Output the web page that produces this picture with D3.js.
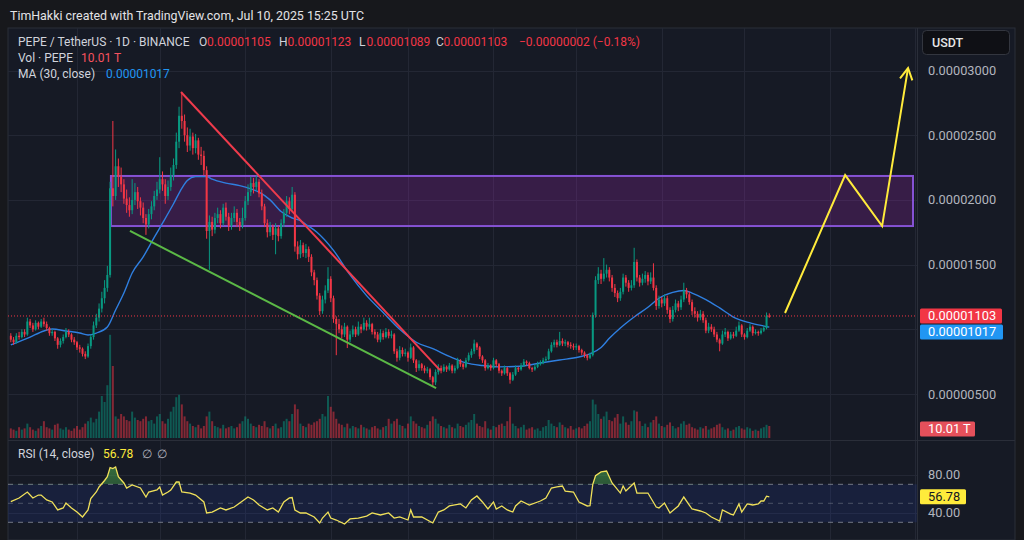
<!DOCTYPE html>
<html>
<head>
<meta charset="utf-8">
<script src="https://cdn.jsdelivr.net/npm/d3@7"></script>
<style>
  body { margin: 0; background: #17181c; }
  svg { display: block; font-family: Roboto, "Noto Sans", sans-serif; }
</style>
</head>
<body>
<svg id="chart" width="1024" height="540"></svg>
<script>
// PEPE / USDT daily candles, prices in millionths of a USDT (1 = 0.000001)
const startDay = Date.UTC(2024, 9, 8);   // first candle: Oct 8 2024
const firstOpen = 9.5;

const closes = [
  9.2, 9.0, 9.5, 9.4, 9.8, 9.6, 10.6, 10.3, 10.0, 10.5,
  10.2, 10.6, 10.4, 10.1, 9.7, 9.8, 9.3, 8.8, 9.1, 9.4,
  9.8, 9.6, 9.2, 9.0, 8.6, 8.5, 8.1, 7.9, 8.7, 9.4,
  10.3, 10.9, 11.6, 12.4, 13.2, 14.2, 20.9, 20.3, 22.6, 21.8,
  21.2, 20.1, 19.6, 19.2, 20.0, 20.6, 19.9, 19.4, 18.6, 18.1,
  18.9, 19.5, 20.3, 20.8, 21.6, 21.2, 20.3, 21.0, 21.9, 22.7,
  24.5, 26.5, 26.1, 25.0, 24.2, 24.9, 24.0, 24.6, 23.5, 23.4,
  22.3, 17.6, 18.3, 17.7, 18.6, 18.9, 18.2, 19.4, 18.7, 18.0,
  18.6, 19.0, 18.3, 18.0, 18.6, 19.9, 20.6, 21.3, 21.0, 21.4,
  20.5, 19.5, 18.2, 17.5, 17.9, 17.3, 17.8, 17.2, 18.2, 19.0,
  19.9, 19.3, 20.4, 16.4, 15.8, 16.5, 15.9, 16.2, 15.6, 14.4,
  13.8, 12.6, 11.4, 12.3, 13.0, 13.9, 12.4, 10.8, 10.4, 10.0,
  9.6, 10.2, 9.2, 9.6, 10.0, 9.6, 10.2, 10.0, 10.5, 10.2,
  10.4, 9.8, 9.6, 9.2, 9.7, 9.4, 9.8, 9.5, 9.6, 8.3,
  7.8, 8.4, 8.1, 8.2, 7.8, 8.6, 7.6, 7.0, 7.3, 7.0,
  6.8, 6.9, 6.3, 5.9, 6.7, 7.0, 6.8, 7.1, 6.9, 7.2,
  6.8, 7.0, 7.6, 7.3, 7.1, 7.6, 8.0, 8.3, 8.9, 8.6,
  7.9, 7.6, 7.0, 7.2, 7.0, 7.6, 7.3, 6.8, 6.6, 7.0,
  6.6, 6.1, 6.5, 7.0, 6.9, 7.2, 7.5, 7.4, 7.0, 6.9,
  7.1, 7.3, 7.4, 7.6, 7.7, 8.3, 8.8, 9.0, 8.8, 9.1,
  8.9, 9.0, 8.8, 8.7, 8.6, 8.7, 8.4, 8.2, 8.0, 7.8,
  8.0, 11.1, 13.8, 14.3, 13.9, 14.3, 14.6, 14.0, 13.2, 12.8,
  12.4, 12.9, 14.0, 13.6, 13.2, 13.4, 15.2, 14.0, 13.6, 13.9,
  14.2, 13.7, 14.0, 13.2, 11.8, 12.3, 12.0, 12.4, 11.5, 10.8,
  11.5, 12.0, 11.7, 12.3, 13.0, 12.7, 12.1, 11.4, 11.2, 10.9,
  11.2, 10.7, 9.9, 10.2, 10.0, 9.6, 9.2, 8.9, 9.6, 9.8,
  9.3, 9.6, 9.5, 9.9, 10.3, 9.6, 9.4, 9.9, 10.2, 9.7,
  9.8, 9.7, 9.9, 10.1, 11.05, 11.03
];

const highs = [
  9.7, 9.4, 9.7, 9.8, 10.0, 10.0, 10.9, 10.8, 10.5, 10.7,
  10.6, 10.8, 10.9, 10.6, 10.2, 10.0, 9.9, 9.4, 9.3, 9.6,
  10.1, 10.0, 9.7, 9.4, 9.1, 8.8, 8.6, 8.3, 8.9, 9.6,
  10.6, 11.2, 12.0, 12.9, 13.8, 14.9, 21.4, 26.1, 23.9, 23.2,
  22.5, 21.6, 20.8, 20.2, 21.6, 21.3, 21.0, 20.2, 19.8, 18.9,
  19.3, 19.9, 20.7, 21.4, 23.3, 22.2, 21.6, 21.5, 22.5, 23.2,
  25.2, 27.2, 28.3, 26.6, 25.6, 25.5, 25.2, 25.1, 24.8, 24.1,
  23.8, 22.6, 18.8, 18.7, 19.0, 19.4, 19.2, 19.7, 19.8, 19.0,
  19.0, 19.5, 19.3, 18.6, 19.4, 20.3, 21.2, 21.8, 21.7, 21.9,
  21.6, 20.8, 19.7, 18.5, 18.3, 18.1, 18.2, 18.0, 18.5, 19.3,
  20.3, 20.2, 21.0, 20.6, 16.8, 16.9, 16.7, 16.6, 16.4, 15.8,
  14.6, 14.0, 12.8, 12.6, 13.4, 14.8, 14.1, 12.6, 11.0, 10.8,
  10.3, 10.5, 10.3, 9.9, 10.3, 10.2, 10.6, 10.4, 10.9, 10.7,
  10.9, 10.5, 10.0, 9.8, 10.0, 9.9, 10.1, 10.0, 9.9, 9.7,
  8.5, 8.7, 8.6, 8.5, 8.3, 8.9, 8.7, 7.7, 7.6, 7.4,
  7.2, 7.1, 7.0, 6.4, 6.9, 7.3, 7.2, 7.3, 7.2, 7.4,
  7.3, 7.2, 7.8, 7.7, 7.4, 7.8, 8.2, 8.5, 9.2, 9.0,
  8.7, 8.0, 7.7, 7.4, 7.3, 7.8, 7.7, 7.4, 6.9, 7.2,
  7.1, 6.7, 6.7, 7.2, 7.1, 7.4, 7.7, 7.6, 7.5, 7.1,
  7.3, 7.5, 7.6, 7.8, 7.9, 8.5, 9.0, 9.2, 9.2, 9.8,
  9.3, 9.2, 9.1, 9.0, 8.9, 8.9, 8.8, 8.5, 8.3, 8.1,
  8.2, 11.3, 14.1, 14.8, 14.6, 15.5, 15.0, 14.8, 14.2, 13.5,
  13.0, 13.2, 14.3, 14.2, 13.8, 13.8, 16.3, 15.4, 14.2, 14.3,
  14.5, 14.4, 14.4, 15.1, 13.4, 12.6, 12.5, 12.7, 12.6, 11.7,
  11.8, 12.3, 12.2, 12.6, 13.6, 13.2, 12.9, 12.3, 11.7, 11.4,
  11.5, 11.4, 10.9, 10.5, 10.4, 10.2, 9.8, 9.3, 9.9, 10.1,
  9.9, 9.8, 9.8, 10.2, 10.6, 10.4, 9.7, 10.1, 10.4, 10.3,
  10.0, 9.9, 10.1, 10.3, 11.3, 11.23
];

const lows = [
  9.0, 8.8, 8.9, 9.2, 9.3, 9.4, 9.5, 10.1, 9.8, 9.9,
  10.0, 10.1, 10.2, 9.9, 9.5, 9.5, 9.1, 8.5, 8.6, 8.9,
  9.3, 9.4, 9.0, 8.8, 8.4, 8.2, 7.9, 7.7, 7.8, 8.5,
  9.2, 10.1, 10.6, 11.3, 12.0, 12.9, 14.0, 19.5, 20.0, 21.0,
  20.6, 19.7, 19.0, 18.7, 18.9, 19.6, 19.3, 18.8, 18.2, 17.3,
  17.8, 18.5, 19.2, 20.0, 20.5, 20.7, 19.7, 20.0, 20.7, 21.5,
  22.4, 24.0, 25.5, 24.5, 23.7, 23.8, 23.5, 23.6, 23.1, 22.7,
  21.9, 17.0, 14.6, 17.2, 17.4, 18.2, 17.8, 18.0, 18.4, 17.6,
  17.7, 18.3, 17.9, 17.6, 17.8, 18.4, 19.6, 20.3, 20.5, 20.7,
  20.2, 19.2, 17.9, 17.1, 17.2, 16.9, 15.8, 16.8, 17.0, 17.9,
  18.7, 18.9, 19.1, 16.0, 15.4, 15.5, 15.6, 15.5, 15.2, 14.1,
  13.4, 12.3, 11.1, 11.2, 12.0, 12.8, 12.1, 10.5, 8.0, 9.7,
  9.3, 9.4, 8.55, 9.0, 9.4, 9.4, 9.5, 9.7, 9.9, 9.9,
  10.0, 9.6, 9.3, 9.0, 9.0, 9.2, 9.3, 9.3, 9.3, 8.1,
  7.5, 7.6, 7.9, 7.9, 7.5, 7.7, 7.4, 6.7, 6.8, 6.8,
  6.6, 6.6, 6.1, 5.55, 5.7, 6.5, 6.6, 6.7, 6.7, 6.8,
  6.6, 6.6, 6.9, 7.1, 6.9, 7.0, 7.5, 7.8, 8.1, 8.4,
  7.7, 7.4, 6.8, 6.9, 6.8, 6.9, 7.1, 6.6, 6.4, 6.5,
  6.4, 5.8, 6.0, 6.4, 6.7, 6.8, 7.1, 7.2, 6.9, 6.7,
  6.8, 7.0, 7.2, 7.3, 7.5, 7.6, 8.2, 8.6, 8.6, 8.7,
  8.7, 8.7, 8.6, 8.5, 8.4, 8.4, 8.2, 8.0, 7.8, 7.6,
  7.7, 7.9, 10.9, 13.5, 13.5, 13.7, 14.0, 13.7, 12.9, 12.5,
  12.1, 12.2, 12.7, 13.3, 12.9, 13.0, 13.2, 13.7, 13.3, 13.4,
  13.6, 13.4, 13.5, 13.0, 11.5, 11.6, 11.7, 11.8, 11.2, 10.5,
  10.6, 11.3, 11.4, 11.5, 12.1, 12.4, 11.9, 11.1, 10.9, 10.6,
  10.7, 10.5, 9.7, 9.7, 9.8, 9.4, 9.0, 8.3, 8.8, 9.4,
  9.1, 9.2, 9.3, 9.4, 9.8, 9.4, 9.2, 9.3, 9.8, 9.5,
  9.6, 9.5, 9.6, 9.8, 10.0, 10.89
];

// volume in trillions of PEPE
const volumes = [
  8, 7, 6, 9, 7, 8, 12, 9, 7, 6,
  8, 10, 14, 9, 8, 7, 11, 12, 8, 7,
  9, 7, 6, 8, 10, 7, 9, 12, 14, 17,
  13, 16, 22, 35, 30, 44, 86, 60, 18, 16,
  20, 18, 15, 14, 22, 17, 15, 14, 16, 18,
  14, 15, 12, 18, 20, 14, 12, 16, 22, 26,
  34, 36, 28, 18, 14, 12, 10, 9, 11, 8,
  10, 18, 22, 14, 10, 9, 8, 11, 8, 9,
  10, 8, 9, 12, 14, 18, 16, 12, 10, 9,
  11, 10, 14, 9, 8, 10, 12, 8, 9, 14,
  16, 14, 20, 28, 24, 12, 10, 9, 12, 11,
  13, 14, 16, 20, 18, 35, 26, 22, 16, 12,
  11, 9, 12, 8, 10, 9, 8, 11, 9, 8,
  7, 9, 10, 8, 7, 9, 10, 16, 12, 14,
  16, 11, 10, 8, 12, 18, 14, 12, 10, 9,
  8, 11, 14, 18, 16, 12, 10, 9, 8, 11,
  9, 8, 12, 10, 9, 11, 13, 15, 20, 12,
  10, 9, 14, 8, 7, 10, 9, 11, 12, 10,
  14, 26, 12, 10, 8, 9, 11, 7, 8, 9,
  7, 8, 6, 9, 10, 15, 12, 10, 9, 13,
  11, 9, 8, 10, 7, 8, 9, 8, 10, 12,
  14, 32, 28, 20, 16, 18, 22, 15, 14, 17,
  20, 12, 18, 13, 11, 14, 23, 22, 14, 10,
  12, 9, 13, 15, 18, 12, 10, 9, 11, 13,
  10, 8, 9, 12, 14, 11, 12, 9, 8, 7,
  9, 8, 10, 7, 8, 9, 11, 12, 9, 7,
  8, 6, 7, 9, 10, 8, 7, 9, 8, 6,
  7, 6, 8, 9, 11, 10.01
];

// MA (30, close) at these candle indices
const maIndex = [0, 7, 12, 15, 20, 25, 28, 31, 35, 38, 41, 44, 48, 52, 55, 59, 62, 64, 67, 71,
  73, 78, 83, 87, 90, 94, 98, 102, 105, 107, 111, 117, 123, 129, 135, 141, 147, 153, 159, 165,
  171, 177, 185, 192, 199, 206, 210, 214, 217, 221, 226, 231, 235, 240, 244, 247, 252, 257, 262, 267,
  272, 275];
const maValues = [8.79, 9.4, 9.87, 10.02, 9.87, 9.71, 9.56, 9.71, 10.18, 11.49, 12.81, 14.35, 15.6, 17.1, 18.2, 19.7, 20.9, 21.5, 21.8, 21.8,
  21.6, 21.3, 21.1, 20.85, 20.6, 20.0, 19.1, 18.6, 18.4, 18.1, 17.5, 16.1, 14.2, 12.6, 11.3, 10.0, 9.0, 8.5, 7.9, 7.4,
  7.2, 7.1, 7.15, 7.4, 7.63, 7.86, 8.1, 8.6, 9.3, 10.1, 10.95, 11.7, 12.4, 12.85, 13.0, 12.8, 12.3, 11.65, 10.95, 10.55,
  10.3, 10.17];

// RSI (14, close)
const rsiIndex = [0, 3, 6, 8, 10, 11, 13, 15, 17, 19, 20, 22, 24, 26, 28, 29, 31, 32, 34, 35,
  36, 37, 38, 39, 41, 42, 44, 47, 49, 50, 53, 54, 55, 57, 58, 60, 61, 62, 65, 67,
  70, 71, 73, 76, 78, 81, 83, 86, 88, 90, 93, 95, 97, 99, 101, 102, 103, 105, 107, 110,
  112, 113, 115, 116, 118, 121, 123, 126, 129, 131, 134, 137, 139, 141, 144, 145, 146, 149, 153, 155,
  157, 159, 163, 165, 167, 169, 171, 173, 175, 176, 178, 180, 182, 183, 185, 188, 192, 194, 196, 198,
  200, 201, 204, 206, 209, 210, 211, 212, 214, 216, 218, 221, 222, 223, 226, 227, 231, 234, 235, 237,
  238, 239, 242, 244, 246, 247, 250, 252, 254, 257, 258, 261, 262, 264, 265, 267, 269, 271, 272, 273,
  274, 275];
const rsiValues = [51.7, 55.6, 61.9, 55.6, 58.7, 58.7, 53.5, 51.4, 43.0, 45.1, 50.3, 45.1, 40.8, 35.6, 43.0, 55.0, 61.9, 67.2, 74.0, 78.0,
  87.5, 86.5, 88.2, 78.0, 71.4, 66.1, 69.3, 66.1, 56.6, 61.9, 64.0, 67.2, 58.7, 61.9, 64.0, 72.4, 72.4, 61.9, 60.8, 58.7,
  51.4, 39.8, 40.8, 45.1, 43.0, 46.1, 50.3, 56.6, 53.5, 48.2, 43.0, 45.1, 40.8, 51.4, 55.6, 56.0, 43.0, 39.8, 39.8, 35.6,
  29.3, 34.5, 40.8, 34.5, 32.4, 28.2, 33.5, 34.5, 36.6, 39.8, 37.7, 39.8, 34.5, 35.6, 32.4, 43.0, 35.6, 35.6, 29.3, 40.8,
  43.0, 47.2, 49.3, 45.1, 53.5, 57.7, 51.4, 44.0, 51.4, 44.0, 47.2, 43.0, 40.8, 47.2, 52.4, 48.2, 52.4, 55.6, 66.1, 67.2,
  68.2, 62.9, 61.9, 51.4, 47.2, 47.5, 70.0, 79.0, 83.0, 84.0, 71.4, 60.8, 68.2, 62.9, 71.4, 60.8, 60.8, 46.1, 45.1, 50.3,
  45.1, 39.8, 47.2, 56.6, 48.2, 44.0, 41.9, 39.8, 35.6, 31.4, 43.0, 38.7, 37.7, 49.3, 40.8, 49.3, 48.2, 49.3, 52.4, 52.4,
  57.5, 56.78];

const priceTicks = [5, 10, 15, 20, 25, 30];
const rsiTicks = [80, 40];
const rsiLevels = [70, 50, 30];

// drawings: [candle index, price]
const zoneDays = [36.3, 327.1];
const zonePrices = [17.98, 21.85];
const redTrend = [[61.7, 28.34], [155.6, 6.85]];
const greenTrend = [[43.2, 17.6], [154.2, 5.46]];
const projection = [[280.7, 11.26], [302.5, 21.92], [315.9, 17.98], [325.3, 30.19]];

// ---- layout ----
const plotL = 8, plotR = 917, axisR = 1015;
const mainT = 28, mainB = 439, rsiT = 440, rsiB = 540;
const upCol = "#089981", downCol = "#f23645";

const svg = d3.select("#chart");
const day = i => new Date(startDay + i * 864e5);
const x = d3.scaleUtc().domain([day(0), day(275)]).range([10.8, 769.3]);
const xi = i => x(day(i));
const y = d3.scaleLinear().domain([5, 30]).range([394, 70.5]);
const yVol = d3.scaleLinear().domain([0, 100]).range([438, 318]);
const yR = d3.scaleLinear().domain([30, 70]).range([522.3, 484.3]);
const fmtP = v => (v * 1e-6).toFixed(8);

const candles = closes.map((c, i) => ({
  i, c, o: i ? closes[i - 1] : firstOpen, h: highs[i], l: lows[i], v: volumes[i]
}));
const last = candles[candles.length - 1];
const lastMA = maValues[maValues.length - 1];
const lastRSI = rsiValues[rsiValues.length - 1];

// backgrounds
svg.append("rect").attr("width", 1024).attr("height", 540).attr("fill", "#17181c");
svg.append("rect").attr("x", plotL).attr("y", mainT).attr("width", axisR - plotL).attr("height", rsiB - mainT)
  .attr("fill", "#161a25").attr("stroke", "#2a2e39");

const defs = svg.append("defs");
defs.append("clipPath").attr("id", "clipMain").append("rect")
  .attr("x", plotL).attr("y", mainT).attr("width", plotR - plotL).attr("height", mainB - mainT);
defs.append("clipPath").attr("id", "clipRsi").append("rect")
  .attr("x", plotL).attr("y", rsiT).attr("width", plotR - plotL).attr("height", rsiB - rsiT);
defs.append("clipPath").attr("id", "clipOB").append("rect")
  .attr("x", plotL).attr("y", rsiT).attr("width", plotR - plotL).attr("height", yR(70) - rsiT);
const grad = defs.append("linearGradient").attr("id", "obGrad").attr("x1", 0).attr("x2", 0).attr("y1", 0).attr("y2", 1);
grad.append("stop").attr("offset", "0%").attr("stop-color", "#4caf50").attr("stop-opacity", 0.55);
grad.append("stop").attr("offset", "100%").attr("stop-color", "#4caf50").attr("stop-opacity", 0.1);

// grid
const months = d3.utcMonth.range(day(-5), day(330));
const grid = svg.append("g").attr("stroke", "#232734").attr("stroke-width", 1);
grid.selectAll(".vg").data(months).join("line")
  .attr("x1", d => Math.round(x(d)) + 0.5).attr("x2", d => Math.round(x(d)) + 0.5)
  .attr("y1", mainT).attr("y2", rsiB);
grid.selectAll(".hg").data(priceTicks).join("line")
  .attr("x1", plotL).attr("x2", plotR)
  .attr("y1", d => Math.round(y(d)) + 0.5).attr("y2", d => Math.round(y(d)) + 0.5);
grid.append("g").selectAll("line").data(rsiTicks).join("line")
  .attr("x1", plotL).attr("x2", plotR)
  .attr("y1", d => Math.round(yR(d)) + 0.5).attr("y2", d => Math.round(yR(d)) + 0.5);

// pane separators
svg.append("line").attr("x1", plotL).attr("x2", axisR).attr("y1", rsiT + 0.5).attr("y2", rsiT + 0.5).attr("stroke", "#2a2e39");
svg.append("line").attr("x1", plotR + 0.5).attr("x2", plotR + 0.5).attr("y1", mainT).attr("y2", rsiB).attr("stroke", "#2a2e39");

const main = svg.append("g").attr("clip-path", "url(#clipMain)");

// zone rectangle
main.append("rect")
  .attr("x", xi(zoneDays[0])).attr("width", xi(zoneDays[1]) - xi(zoneDays[0]))
  .attr("y", y(zonePrices[1])).attr("height", y(zonePrices[0]) - y(zonePrices[1]))
  .attr("fill", "rgba(156, 39, 176, 0.25)").attr("stroke", "#8552d4").attr("stroke-width", 2);

// volume
main.append("g").selectAll("rect").data(candles).join("rect")
  .attr("x", d => xi(d.i) - 1).attr("width", 2)
  .attr("y", d => yVol(d.v)).attr("height", d => yVol(0) - yVol(d.v))
  .attr("fill", d => d.c >= d.o ? "rgba(8,153,129,0.5)" : "rgba(242,54,69,0.5)");

// MA line
main.append("path")
  .datum(maIndex.map((i, k) => [i, maValues[k]]))
  .attr("fill", "none").attr("stroke", "#2f7fe0").attr("stroke-width", 1.4)
  .attr("d", d3.line().x(d => xi(d[0])).y(d => y(d[1])).curve(d3.curveMonotoneX));

// candles
const cg = main.append("g").selectAll("g").data(candles).join("g")
  .attr("fill", d => d.c >= d.o ? upCol : downCol);
cg.append("rect")
  .attr("x", d => xi(d.i) - 0.5).attr("width", 1)
  .attr("y", d => y(d.h)).attr("height", d => Math.max(1, y(d.l) - y(d.h)));
cg.append("rect")
  .attr("x", d => xi(d.i) - 1).attr("width", 2)
  .attr("y", d => y(Math.max(d.o, d.c)))
  .attr("height", d => Math.max(1, Math.abs(y(d.o) - y(d.c))));

// current price line
main.append("line")
  .attr("x1", plotL).attr("x2", plotR)
  .attr("y1", y(last.c)).attr("y2", y(last.c))
  .attr("stroke", downCol).attr("stroke-width", 1).attr("stroke-dasharray", "1,2");

// trend lines and projection
const pl = d3.line().x(d => xi(d[0])).y(d => y(d[1]));
main.append("path").datum(redTrend).attr("d", pl).attr("fill", "none")
  .attr("stroke", "#ef3b4c").attr("stroke-width", 2);
main.append("path").datum(greenTrend).attr("d", pl).attr("fill", "none")
  .attr("stroke", "#5bb946").attr("stroke-width", 2);
main.append("path").datum(projection).attr("d", pl).attr("fill", "none")
  .attr("stroke", "#ffeb3b").attr("stroke-width", 2).attr("stroke-linejoin", "miter");
{
  const a = projection[projection.length - 2], b = projection[projection.length - 1];
  const tx = xi(b[0]), ty = y(b[1]);
  const ang = Math.atan2(ty - y(a[1]), tx - xi(a[0]));
  const len = 13;
  const wing = s => [tx - len * Math.cos(ang + s), ty - len * Math.sin(ang + s)];
  main.append("path")
    .attr("d", d3.line()([wing(0.5), [tx, ty], wing(-0.5)]))
    .attr("fill", "none").attr("stroke", "#ffeb3b").attr("stroke-width", 2);
}

// RSI pane
const rsi = svg.append("g").attr("clip-path", "url(#clipRsi)");
rsi.append("rect").attr("x", plotL).attr("width", plotR - plotL)
  .attr("y", yR(70)).attr("height", yR(30) - yR(70)).attr("fill", "rgba(40, 80, 220, 0.13)");
rsi.append("g").selectAll("line").data(rsiLevels).join("line")
  .attr("x1", plotL).attr("x2", plotR)
  .attr("y1", d => yR(d)).attr("y2", d => yR(d))
  .attr("stroke", "#8a8e9a").attr("stroke-opacity", d => d === 50 ? 0.45 : 0.8)
  .attr("stroke-dasharray", "5,5");
const rsiPts = rsiIndex.map((i, k) => [i, rsiValues[k]]);
rsi.append("path").datum(rsiPts).attr("clip-path", "url(#clipOB)")
  .attr("fill", "url(#obGrad)")
  .attr("d", d3.area().x(d => xi(d[0])).y0(yR(70)).y1(d => yR(d[1])));
rsi.append("path").datum(rsiPts).attr("fill", "none")
  .attr("stroke", "#f0e15a").attr("stroke-width", 1.3)
  .attr("d", d3.line().x(d => xi(d[0])).y(d => yR(d[1])));

// right axis labels
const ax = svg.append("g").attr("font-size", 12.8).attr("fill", "#b2b5be");
const hidden = [y(last.c), y(lastMA)];
ax.selectAll("text.p").data(priceTicks.filter(t => hidden.every(h => Math.abs(y(t) - h) > 16)))
  .join("text").attr("x", 928).attr("y", d => y(d) + 4.5).text(d => fmtP(d));
ax.selectAll("text.r").data(rsiTicks).join("text")
  .attr("x", 928).attr("y", d => yR(d) + 4.5).text(d => d.toFixed(2));

function tag(yc, w, fill, txt, col) {
  svg.append("rect").attr("x", 920).attr("y", yc - 7.5).attr("width", w).attr("height", 15)
    .attr("rx", 1.5).attr("fill", fill);
  svg.append("text").attr("x", 928).attr("y", yc + 4.5).attr("font-size", 12.8)
    .attr("fill", col).text(txt);
}
tag(y(last.c), 82, downCol, fmtP(last.c), "#ffffff");
tag(y(last.c) + 16, 83, "#2196f3", fmtP(lastMA), "#ffffff");
tag(yVol(last.v) + 3, 55, "#e5505b", last.v.toFixed(2) + " T", "#ffffff");
tag(yR(lastRSI), 46, "#ffeb3b", lastRSI.toFixed(2), "#131722");

// USDT box
svg.append("rect").attr("x", 922.5).attr("y", 30.5).attr("width", 87).attr("height", 24)
  .attr("rx", 4).attr("fill", "#0f1015").attr("stroke", "#33363f");
svg.append("text").attr("x", 932).attr("y", 47).attr("font-size", 12.5).attr("font-weight", 500)
  .attr("fill", "#e6e6e6").text("USDT");

// legend
svg.append("text").attr("x", 10).attr("y", 19.5).attr("font-size", 12.4).attr("fill", "#e3e3e6")
  .text("TimHakki created with TradingView.com, Jul 10, 2025 15:25 UTC");

const lg = svg.append("g").attr("font-size", 12).attr("fill", "#d1d4dc");
function part(px, py, txt, col) {
  lg.append("text").attr("x", px).attr("y", py).attr("fill", col || "#d1d4dc").text(txt);
}
const chg = last.c - last.o;
const chgTxt = (fmtP(chg) + " (" + (chg / last.o * 100).toFixed(2) + "%)").replace(/-/g, "\u2212");
part(18, 46, "PEPE / TetherUS \u00b7 1D \u00b7 BINANCE");
part(199, 46, "O"); part(207, 46, fmtP(last.o), downCol);
part(279, 46, "H"); part(287.5, 46, fmtP(last.h), downCol);
part(359, 46, "L"); part(366.5, 46, fmtP(last.l), downCol);
part(436, 46, "C"); part(443.5, 46, fmtP(last.c), downCol);
part(519, 46, chgTxt, downCol);
part(18, 62, "Vol \u00b7 PEPE"); part(81, 62, last.v.toFixed(2) + " T", "#f7525f");
part(18, 78, "MA (30, close)"); part(106, 78, fmtP(lastMA), "#2196f3");
part(18, 458, "RSI (14, close)"); part(103, 458, lastRSI.toFixed(2), "#ffeb3b");
part(142, 458, "\u2205", "#b2b5be"); part(157, 458, "\u2205", "#b2b5be");
</script>
</body>
</html>
